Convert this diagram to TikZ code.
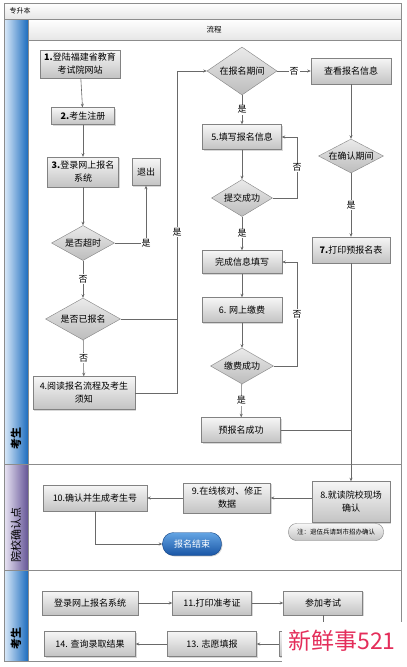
\documentclass[tikz,border=0pt]{standalone}
\usepackage{fontspec}
\setmainfont{Noto Sans CJK SC}
\usepackage{tikz}
\usetikzlibrary{arrows.meta,positioning,calc,shapes.geometric,shadows}
\definecolor{EdgeGray}{RGB}{130,130,130}
\definecolor{LineGray}{RGB}{105,105,105}
\definecolor{FrameGray}{RGB}{140,140,140}
\definecolor{BoxTop}{RGB}{246,246,246}
\definecolor{BoxBottom}{RGB}{195,195,195}
\definecolor{BarGray}{RGB}{230,230,230}
\definecolor{LaneSky}{RGB}{220,235,250}
\definecolor{LaneBlue}{RGB}{28,108,190}
\definecolor{LaneLilac}{RGB}{235,230,245}
\definecolor{LanePurple}{RGB}{100,85,150}
\definecolor{EndTop}{RGB}{100,165,228}
\definecolor{EndBottom}{RGB}{25,85,165}
\definecolor{MarkRed}{RGB}{228,45,90}
\tikzset{
  stepbox/.style={draw=EdgeGray,top color=BoxTop,bottom color=BoxBottom,drop shadow={shadow xshift=1pt,shadow yshift=-1pt,fill=black!30},align=center,inner sep=1pt,font=\fontsize{9}{13}\selectfont},
  decision/.style={diamond,aspect=2,inner sep=0pt,draw=EdgeGray,top color=BoxTop!90!gray,bottom color=BoxBottom!90!gray,font=\fontsize{9}{11}\selectfont},
  flow/.style={->,>={Stealth[length=3.5pt,width=3pt]},draw=LineGray,line width=0.6pt},
  link/.style={draw=LineGray,line width=0.6pt},
  branch/.style={fill=white,inner sep=1pt,font=\fontsize{9}{10}\selectfont},
  lanelabel/.style={rotate=90,font=\bfseries\fontsize{11}{11}\selectfont},
  notebox/.style={draw=EdgeGray,rounded corners=8pt,top color=BoxTop,bottom color=BoxBottom,inner sep=1pt,font=\fontsize{6.5}{7}\selectfont},
  endbox/.style={draw=EndBottom!80!black,rounded corners=11pt,top color=EndTop,bottom color=EndBottom,text=white,font=\fontsize{9}{10}\selectfont,drop shadow={shadow xshift=1pt,shadow yshift=-1pt,fill=black!30}}
}
\begin{document}
\begin{tikzpicture}[x=1pt,y=-1pt]
\useasboundingbox(0,0)rectangle(407,667);
\fill[white](0,0)rectangle(407,667);
\shade[top color=white,bottom color=BarGray](4,3)rectangle(401,19);
\shade[top color=white,bottom color=BarGray](28,19)rectangle(401,40);
\shade[left color=LaneSky,right color=LaneBlue](4,19)rectangle(28,464);
\shade[left color=LaneLilac,right color=LanePurple](4,464)rectangle(28,570);
\shade[left color=LaneSky,right color=LaneBlue](4,570)rectangle(28,661);
\draw[FrameGray](4,3)rectangle(401,661);
\draw[FrameGray](4,19)--(401,19);
\draw[FrameGray](28,40)--(401,40);
\draw[FrameGray](4,464)--(401,464);
\draw[FrameGray](4,570)--(401,570);
\draw[FrameGray](28,19)--(28,661);
\node[anchor=west,font=\fontsize{7}{8}\selectfont](title)at(6,11){专升本};
\node[font=\fontsize{7.5}{8}\selectfont](header)at(214,29.5){流程};
\node[lanelabel](lane1)at(16,438){考生};
\node[lanelabel,font=\fontsize{11}{11}\selectfont](lane2)at(16,535){院校确认点};
\node[lanelabel](lane3)at(16,638){考生};

\node[stepbox,minimum width=80pt,minimum height=28pt](s1)at(80,64){\textbf{1.}登陆福建省教育\\考试院网站};
\node[stepbox,minimum width=63pt,minimum height=17pt](s2)at(83,116){\textbf{2.}考生注册};
\node[stepbox,minimum width=71pt,minimum height=30pt](s3)at(83,172){\textbf{3.}登录网上报名\\系统};
\node[stepbox,minimum width=28pt,minimum height=27pt](quit)at(146,172){退出};
\node[decision,minimum width=63pt,minimum height=35pt](timeout)at(83,243){是否超时};
\node[decision,minimum width=75pt,minimum height=42pt](enrolled)at(83,319){是否已报名};
\node[stepbox,minimum width=102pt,minimum height=33pt](s4)at(84,393){4.阅读报名流程及考生\\须知};
\node[decision,minimum width=70pt,minimum height=48pt](period)at(242,71){在报名期间};
\node[stepbox,minimum width=80pt,minimum height=26pt](viewinfo)at(351,71){查看报名信息};
\node[stepbox,minimum width=79pt,minimum height=25pt](s5)at(242,137){5.填写报名信息};
\node[decision,minimum width=61pt,minimum height=37pt](submit)at(242,198){提交成功};
\node[decision,minimum width=65pt,minimum height=34pt](confirm)at(351,156){在确认期间};
\node[stepbox,minimum width=78pt,minimum height=26pt](s7)at(351,250){\textbf{7.}打印预报名表};
\node[stepbox,minimum width=80pt,minimum height=23pt](done)at(242,262){完成信息填写};
\node[stepbox,minimum width=80pt,minimum height=25pt](s6)at(242,310){6. 网上缴费};
\node[decision,minimum width=63pt,minimum height=36pt](paid)at(242,366){缴费成功};
\node[stepbox,minimum width=79pt,minimum height=25pt](pre)at(241,430){预报名成功};

\node[stepbox,minimum width=78pt,minimum height=41pt](s8)at(351,502){8.就读院校现场\\确认};
\node[stepbox,minimum width=87pt,minimum height=30pt](s9)at(227,498){9.在线核对、修正\\数据};
\node[stepbox,minimum width=104pt,minimum height=26pt](s10)at(95,498){10.确认并生成考生号};
\node[notebox,minimum width=95pt,minimum height=17pt](note)at(336,532){注：退伍兵请到市招办确认};
\node[endbox,minimum width=59pt,minimum height=23pt](finish)at(192,544){报名结束};

\node[stepbox,minimum width=96pt,minimum height=24pt](login)at(90,603){登录网上报名系统};
\node[stepbox,minimum width=79pt,minimum height=24pt](s11)at(212,603){11.打印准考证};
\node[stepbox,minimum width=79pt,minimum height=24pt](exam)at(323,603){参加考试};
\node[stepbox,minimum width=84pt,minimum height=25pt](s12)at(321,644){};
\node[stepbox,minimum width=89pt,minimum height=25pt](s13)at(212,644){13. 志愿填报};
\node[stepbox,minimum width=91pt,minimum height=25pt](s14)at(90,644){14. 查询录取结果};

\coordinate(trunkbot)at(177,393);
\coordinate(trunktop)at(177,71);
\coordinate(loopa)at(297,137);
\coordinate(loopb)at(297,262);

\draw[flow](s1)--(s2);
\draw[flow](s2)--(s3);
\draw[flow](s3)--(timeout);
\draw[flow](timeout.east)-|node[branch,pos=0.5]{是}(quit.south);
\draw[flow](timeout)--node[branch]{否}(enrolled);
\draw[flow](enrolled)--node[branch]{否}(s4);
\draw[link](enrolled.east)--(enrolled.east-|trunkbot);
\draw[flow](s4.east)--(trunkbot)--node[branch,pos=0.5]{是}(trunktop)--(period.west);
\draw[flow](period)--node[branch]{否}(viewinfo);
\draw[flow](period)--node[branch]{是}(s5);
\draw[flow](s5)--(submit);
\draw[flow](submit.east)-|node[branch,pos=0.75]{否}(loopa)--(s5.east);
\draw[flow](submit)--node[branch]{是}(done);
\draw[flow](done)--(s6);
\draw[flow](s6)--(paid);
\draw[flow](paid.east)-|node[branch,pos=0.75]{否}(loopb)--(done.east);
\draw[flow](paid)--node[branch]{是}(pre);
\draw[flow](viewinfo)--(confirm);
\draw[flow](confirm)--node[branch]{是}(s7);
\draw[link](pre.east)--(pre.east-|s7);
\draw[flow](s7)--(s8);
\draw[flow](s8.west|-s9.east)--(s9.east);
\draw[flow](s9)--(s10);
\draw[flow](s10.south)|-(finish.west);

\draw[flow](login)--(s11);
\draw[flow](s11)--(exam);
\draw[link](exam.south)--(exam.south|-s12.north);
\draw[flow](s12)--(s13);
\draw[flow](s13)--(s14);

\fill[white](282,622)rectangle(401.5,661.5);
\node[text=MarkRed,font=\fontsize{23}{24}\selectfont,inner sep=0pt](mark)at(342,641){新鲜事521};
\end{tikzpicture}
\end{document}
